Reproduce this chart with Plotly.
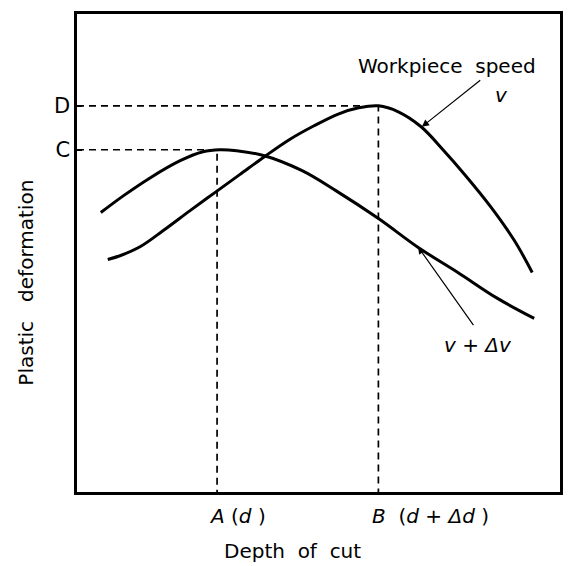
import plotly.graph_objects as go

# Depth of cut (relative 0-100) and plastic deformation (relative 0-100)
v_x = [6.37, 9.03, 13.14, 17.86, 23.41, 28.54, 33.68, 38.81, 43.94, 49.08, 54.21, 58.32, 62.42, 66.53, 71.25, 75.77, 80.29, 85.63, 90.55, 94.25]
v_y = [48.64, 49.48, 51.36, 54.70, 58.87, 62.63, 66.39, 70.15, 73.70, 76.62, 79.12, 80.38, 80.79, 79.54, 76.41, 71.61, 66.39, 59.71, 52.61, 45.93]

dv_x = [4.93, 9.65, 15.20, 21.36, 26.08, 29.57, 33.06, 38.81, 46.61, 53.59, 62.42, 70.64, 78.85, 87.06, 94.66]
dv_y = [58.46, 62.00, 65.76, 69.31, 71.19, 71.61, 71.40, 70.35, 67.22, 63.05, 57.20, 51.15, 45.93, 40.50, 36.33]

A_x, B_x = 29.0, 62.4
C_y, D_y = 71.6, 80.8

y_ticks = [C_y, D_y]
y_tick_labels = ["C", "D"]
x_labels = ["<i>A</i> (<i>d</i> )", "<i>B</i>&nbsp; (<i>d</i> + <i>Δd</i> )"]

FONT = "DejaVu Sans"
FS = 20
fig = go.Figure()

dash_style = dict(color="black", width=1.7, dash="7px,5px")
fig.add_trace(go.Scatter(x=[0, A_x, A_x], y=[C_y, C_y, 0], mode="lines", line=dash_style, hoverinfo="skip"))
fig.add_trace(go.Scatter(x=[0, B_x, B_x], y=[D_y, D_y, 0], mode="lines", line=dash_style, hoverinfo="skip"))

fig.add_trace(go.Scatter(x=v_x, y=v_y, mode="lines",
                         line=dict(color="black", width=3, shape="spline", smoothing=1.0), name="v"))
fig.add_trace(go.Scatter(x=dv_x, y=dv_y, mode="lines",
                         line=dict(color="black", width=3, shape="spline", smoothing=1.0), name="v+Δv"))

fig.update_layout(
    width=568, height=566,
    margin=dict(l=77, r=5, t=14, b=74),
    plot_bgcolor="white", paper_bgcolor="white",
    showlegend=False,
    font=dict(family=FONT, color="black", size=FS),
)
fig.update_xaxes(range=[0, 100], showgrid=False, zeroline=False, showline=True, mirror=True,
                 linecolor="black", linewidth=2.5, showticklabels=False, ticks="")
fig.update_yaxes(range=[0, 100], showgrid=False, zeroline=False, showline=True, mirror=True,
                 linecolor="black", linewidth=2.5, tickvals=y_ticks, ticktext=y_tick_labels,
                 ticks="inside", ticklen=5, tickwidth=1.5, tickcolor="black",
                 tickfont=dict(size=FS + 1, family=FONT))

for xv, lab, sh in [(A_x, x_labels[0], -10), (B_x, x_labels[1], -8)]:
    fig.add_annotation(x=xv, y=0, xref="x", yref="y", text=lab, showarrow=False,
                       xanchor="left", yanchor="top", xshift=sh, yshift=-10, font=dict(size=FS))

fig.add_annotation(x=44.6, y=0, xref="x", yref="y", text="Depth&nbsp; of&nbsp; cut", showarrow=False,
                   yanchor="top", yshift=-45, font=dict(size=FS))
fig.add_annotation(x=0, y=43.8, xref="x", yref="y", text="Plastic&nbsp;&nbsp; deformation", showarrow=False,
                   textangle=-90, xanchor="center", xshift=-51, font=dict(size=FS))

fig.add_annotation(x=76.6, y=89.1, xref="x", yref="y", text="Workpiece&nbsp; speed", showarrow=False,
                   font=dict(size=FS))
fig.add_annotation(x=87.9, y=83.0, xref="x", yref="y", text="<i>v</i>", showarrow=False, font=dict(size=FS))
fig.add_annotation(x=71.4, y=76.4, xref="x", yref="y", ax=83.8, ay=86.4, axref="x", ayref="y",
                   text="", showarrow=True, arrowhead=2, arrowsize=1.2, arrowwidth=1.2, arrowcolor="black")

fig.add_annotation(x=83.0, y=30.8, xref="x", yref="y", text="<i>v</i> + <i>Δv</i>", showarrow=False,
                   font=dict(size=FS))
fig.add_annotation(x=70.6, y=51.3, xref="x", yref="y", ax=82.3, ay=34.6, axref="x", ayref="y",
                   text="", showarrow=True, arrowhead=2, arrowsize=1.2, arrowwidth=1.2, arrowcolor="black")

fig.write_html("out.html", config={"displayModeBar": False},
               post_script="document.body.style.margin='0';document.body.style.overflow='hidden';")
